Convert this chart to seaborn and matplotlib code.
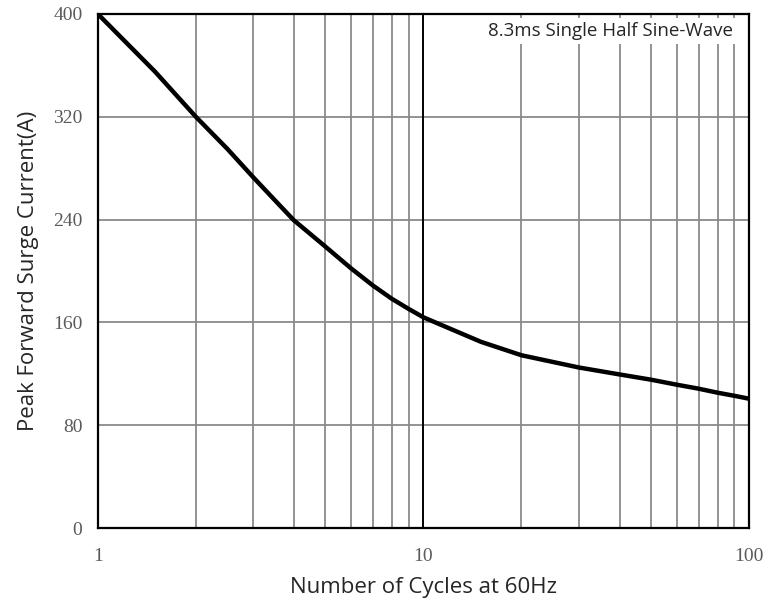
import numpy as np
import pandas as pd
import matplotlib
matplotlib.use("Agg")
import matplotlib.pyplot as plt
import seaborn as sns

# values
cycles = [1, 1.5, 2, 2.5, 3, 3.5, 4, 5, 6, 7, 8, 9, 10,
          15, 20, 30, 40, 50, 60, 70, 80, 90, 100]
surge_a = [400, 355, 320, 295, 273, 255, 239.5, 219, 202, 188.7, 178.4, 170.6, 164,
           145, 134.5, 125, 119.6, 115.5, 111.6, 108.5, 105.4, 103, 100.7]

y_ticks = [0, 80, 160, 240, 320, 400]
x_ticks = [1, 10, 100]
x_ticklabels = ["1", "10", "100"]

df = pd.DataFrame({"cycles": cycles, "surge": surge_a})

sns.set_style("white")
plt.rcParams['font.family'] = ['Open Sans', 'DejaVu Sans']

fig = plt.figure(figsize=(7.82, 6.03), dpi=100)
ax = fig.add_axes([0.125, 0.124, 0.833, 0.853])

sns.lineplot(data=df, x="cycles", y="surge", color="black", linewidth=3.2, ax=ax, zorder=5)

ax.set_xscale("log")
ax.set_xlim(1, 100)
ax.set_ylim(0, 400)
ax.set_yticks(y_ticks)
ax.set_xticks(x_ticks)
ax.set_xticklabels(x_ticklabels)
ax.minorticks_on()
ax.yaxis.set_minor_locator(matplotlib.ticker.NullLocator())

# grid: grey minor decades, black line at 10
ax.grid(True, which="minor", axis="x", color="#8a8a8a", linewidth=1.3)
ax.grid(True, which="major", axis="y", color="#8a8a8a", linewidth=1.3)
ax.axvline(10, color="black", linewidth=1.4, zorder=3)

ax.tick_params(which="both", length=0)
ax.tick_params(axis="y", pad=11)
ax.tick_params(axis="x", pad=14)
for lab in ax.get_xticklabels() + ax.get_yticklabels():
    lab.set_family("Liberation Serif")
    lab.set_fontsize(14)
    lab.set_color("#5a5a5a")

for sp in ax.spines.values():
    sp.set_visible(True)
    sp.set_color("black")
    sp.set_linewidth(1.6)
    sp.set_zorder(6)

ax.set_xlabel("Number of Cycles at 60Hz", fontsize=16, labelpad=9)
ax.set_ylabel("Peak Forward Surge Current(A)", fontsize=16, labelpad=10)

ax.text(0.975, 0.967, "8.3ms Single Half Sine-Wave", transform=ax.transAxes,
        ha="right", va="center", fontsize=13.5, zorder=4,
        bbox=dict(facecolor="white", edgecolor="none", pad=3))

fig.savefig("out.png", dpi=100)
